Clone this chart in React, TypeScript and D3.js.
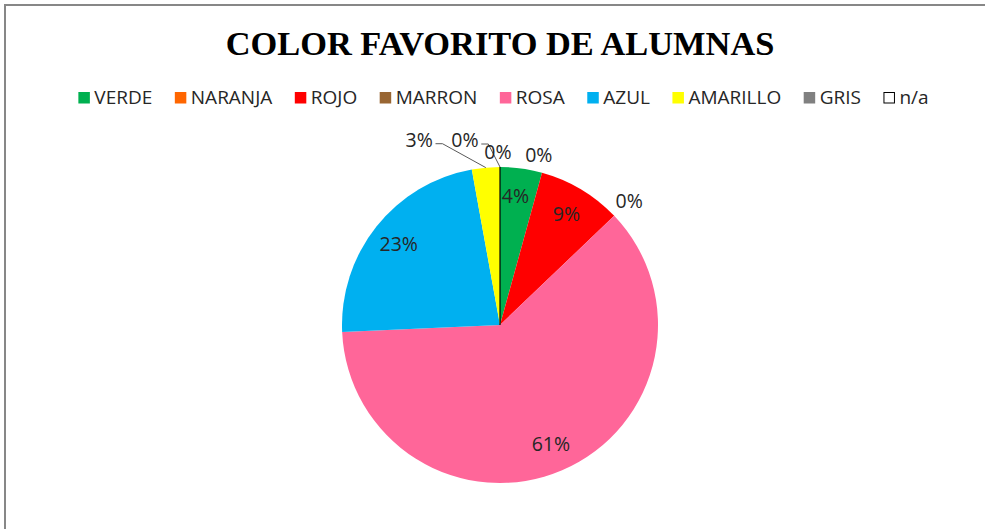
import React, { useMemo } from "react";
import * as d3 from "d3";

const categories = ["VERDE", "NARANJA", "ROJO", "MARRON", "ROSA", "AZUL", "AMARILLO", "GRIS", "n/a"];
const counts = [3, 0, 6, 0, 43, 16, 2, 0, 0];
const percentLabels = ["4%", "0%", "9%", "0%", "61%", "23%", "3%", "0%", "0%"];
const colors = ["#00B050", "#FF6600", "#FF0000", "#996633", "#FF6699", "#00B0F0", "#FFFF00", "#808080", "#FFFFFF"];
const title = "COLOR FAVORITO DE ALUMNAS";

// layout-only: label placement (inside / outside) and nudges for collided labels
const labelPlacement = ["in", "out", "in", "out", "in", "in", "out", "out", "out"];
const labelNudge: [number, number][] = [[-2, 0], [-8, 0], [0, 0], [2, -2], [0, 0], [0, 0], [-65, -10], [-35, -9], [-2, 3]];
const leaderFor = [false, false, false, false, false, false, true, true, false];

const W = 985;
const H = 529;
const cx = 500;
const cy = 325;
const R = 158;
const LEG_FONT = "19px 'Open Sans'";

function measure(text: string, font: string) {
  const c = document.createElement("canvas");
  const ctx = c.getContext("2d")!;
  ctx.font = font;
  return ctx.measureText(text).width;
}

export default function App() {
  const pie = d3.pie<number>().value((d) => d).sort(null).startAngle(0).endAngle(2 * Math.PI);
  const arcs = pie(counts);
  const arcGen = d3.arc<d3.PieArcDatum<number>>().innerRadius(0).outerRadius(R);

  const legend = useMemo(() => {
    const mk = 11.5, gap1 = 4.5, gap2 = 22.5;
    const widths = categories.map((c) => measure(c, LEG_FONT));
    const total = widths.reduce((a, w) => a + mk + gap1 + w, 0) + gap2 * (categories.length - 1);
    let x = 503.5 - total / 2;
    return categories.map((c, i) => {
      const item = { x, tx: x + mk + gap1, w: widths[i] };
      x += mk + gap1 + widths[i] + gap2;
      return item;
    });
  }, []);

  const polar = (ang: number, r: number): [number, number] => [cx + r * Math.sin(ang), cy - r * Math.cos(ang)];

  return (
    <svg width={W} height={H} style={{ position: "absolute", left: 0, top: 0, background: "#fff" }}>
      <rect x={0} y={0} width={W} height={H} fill="#fff" />
      <rect x={5} y={5} width={1100} height={700} fill="none" stroke="#878787" strokeWidth={2} />
      <text x={500} y={55} textAnchor="middle" fontFamily="'Liberation Serif', 'Times New Roman', serif" fontWeight="bold" fontSize={34.4} fill="#000">
        {title}
      </text>
      <g>
        {categories.map((c, i) => (
          <g key={c}>
            <rect
              x={legend[i].x + (i === 8 ? 0.5 : 0)}
              y={92 + (i === 8 ? 0.5 : 0)}
              width={i === 8 ? 10.5 : 11.5}
              height={i === 8 ? 10.5 : 11.5}
              fill={colors[i]}
              stroke={i === 8 ? "#000" : "none"}
              strokeWidth={1}
            />
            <text x={legend[i].tx} y={104} fontFamily="'Open Sans'" fontSize={19} fill="#262626">
              {c}
            </text>
          </g>
        ))}
      </g>
      <g transform={`translate(${cx},${cy})`}>
        {arcs.map((a, i) =>
          a.endAngle - a.startAngle > 0 ? <path key={i} d={arcGen(a) || ""} fill={colors[i]} /> : null
        )}
        {arcs.map((a, i) =>
          i === 8 ? (
            <line key={"na" + i} x1={0} y1={0} x2={R * Math.sin(a.startAngle)} y2={-R * Math.cos(a.startAngle)} stroke="#000" strokeWidth={1.2} />
          ) : null
        )}
      </g>
      {arcs.map((a, i) => {
        const mid = (a.startAngle + a.endAngle) / 2;
        let [x, y] = labelPlacement[i] === "in" ? polar(mid, R * 0.82) : polar(mid, R + 18);
        x += labelNudge[i][0];
        y += labelNudge[i][1];
        const tw = measure(percentLabels[i], LEG_FONT);
        let leader = null;
        if (leaderFor[i]) {
          const [ex, ey] = polar(mid, R);
          const sx = x + tw / 2 + 3;
          const sy = y + 4;
          leader = (
            <polyline
              points={`${sx},${sy} ${sx + 7},${sy} ${ex},${ey}`}
              fill="none"
              stroke="#595959"
              strokeWidth={1}
            />
          );
        }
        return (
          <g key={"l" + i}>
            {leader}
            <text x={x} y={y} dy="0.35em" textAnchor="middle" fontFamily="'Open Sans'" fontSize={19.5} fill="#262626">
              {percentLabels[i]}
            </text>
          </g>
        );
      })}
    </svg>
  );
}
